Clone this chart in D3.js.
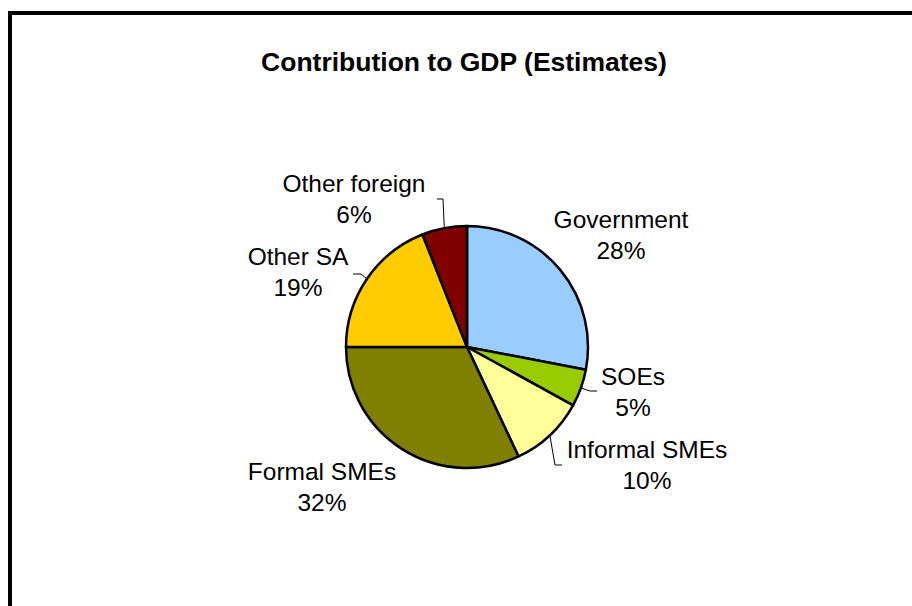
<!DOCTYPE html>
<html>
<head>
<meta charset="utf-8">
<script src="https://cdn.jsdelivr.net/npm/d3@7"></script>
<style>
  body { margin: 0; background: #fff; }
  svg { display: block; font-family: "Liberation Sans", Arial, sans-serif; }
</style>
</head>
<body>
<svg id="chart" width="912" height="606"></svg>
<script>
// data
var categories = ["Government", "SOEs", "Informal SMEs", "Formal SMEs", "Other SA", "Other foreign"];
var shares = [28, 5, 10, 32, 19, 6];
var colors = ["#99ccff", "#99cc00", "#ffff99", "#808000", "#ffcc00", "#800000"];

// label layout, relative to the pie centre (first-line baseline)
var labelPos = [[154, -119], [166, 38], [180, 111], [-145, 133], [-169, -82], [-113, -155]];
// leader elbows (null = no leader line), and direction of the short horizontal tail
var leaderElbow = [null, [123, 44], [88, 118], null, [-106, -73], [-24, -148]];
var leaderTail = [0, 7, 7, 0, -8, -6];

const width = 912,
    height = 606,
    cx = 467,
    cy = 347,
    radius = 121;

var svg = d3.select("#chart");

// frame (only top and left edges fall inside the picture)
svg.append("rect")
    .attr("x", 10)
    .attr("y", 13)
    .attr("width", width + 20)
    .attr("height", height + 20)
    .attr("fill", "none")
    .attr("stroke", "#000")
    .attr("stroke-width", 4);

svg.append("text")
    .attr("x", 464)
    .attr("y", 71)
    .attr("text-anchor", "middle")
    .style("font-weight", "bold")
    .style("font-size", "26.5px")
    .text("Contribution to GDP (Estimates)");

var data = categories.map(function (c, i) { return {name: c, value: shares[i], i: i}; });

const pie = d3.pie()
    .sort(null)
    .value(d => d.value);

const arc = d3.arc()
    .innerRadius(0)
    .outerRadius(radius);

var g = svg.append("g")
    .attr("transform", "translate(" + cx + "," + cy + ")");

var arcs = pie(data);

g.selectAll("path.slice")
    .data(arcs)
    .enter()
    .append("path")
    .attr("class", "slice")
    .attr("d", arc)
    .attr("fill", d => colors[d.data.i])
    .attr("stroke", "#000")
    .attr("stroke-width", 2.5)
    .attr("stroke-linejoin", "round");

// leader lines
g.selectAll("path.leader")
    .data(arcs.filter(d => leaderElbow[d.data.i]))
    .enter()
    .append("path")
    .attr("class", "leader")
    .attr("fill", "none")
    .attr("stroke", "#000")
    .attr("stroke-width", 1)
    .attr("d", d => {
        var a = (d.startAngle + d.endAngle) / 2;
        var p0 = [Math.sin(a) * radius, -Math.cos(a) * radius];
        var e = leaderElbow[d.data.i];
        var p = d3.path();
        p.moveTo(p0[0], p0[1]);
        p.lineTo(e[0], e[1]);
        p.lineTo(e[0] + leaderTail[d.data.i], e[1]);
        return p.toString();
    });

// labels
var fmt = d3.format(".0%");
var labels = g.selectAll("text.label")
    .data(arcs)
    .enter()
    .append("text")
    .attr("class", "label")
    .attr("text-anchor", "middle")
    .style("font-size", "24.5px")
    .attr("fill", "#000")
    .attr("transform", d => "translate(" + labelPos[d.data.i][0] + "," + labelPos[d.data.i][1] + ")");

labels.append("tspan")
    .attr("x", 0)
    .attr("y", 0)
    .text(d => d.data.name);

labels.append("tspan")
    .attr("x", 0)
    .attr("y", 31)
    .text(d => fmt(d.data.value / d3.sum(shares)));
</script>
</body>
</html>
